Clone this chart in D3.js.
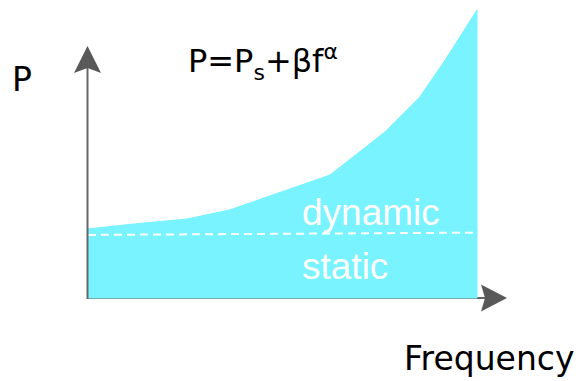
<!DOCTYPE html>
<html>
<head>
<meta charset="utf-8">
<script src="https://cdn.jsdelivr.net/npm/d3@7"></script>
<style>
  html, body { margin: 0; padding: 0; background: #fff; }
  svg { display: block; }
</style>
</head>
<body>
<svg id="chart" width="581" height="381"></svg>
<script>
// ---- data ----
const frequency = [0, 1.41, 2.54, 3.65, 6.22, 7.63, 8.53, 9.18, 10];
const power     = [24, 26, 27.4, 30.6, 42.7, 57.6, 69.8, 82.6, 100];
const staticFreq  = [0, 10];
const staticPower = [21.9, 22.7];
const labels = { y: "P", x: "Frequency", dynamic: "dynamic", stat: "static" };

const svg = d3.select("#chart");
const x = d3.scaleLinear().domain([0, 10]).range([88, 477]);
const y = d3.scaleLinear().domain([0, 100]).range([298, 10]);

const axisColor = "#666666";
const headColor = "#595959";
const fillColor = "#78f3ff";

// x axis line (under area)
svg.append("line")
  .attr("x1", x(0) - 1).attr("x2", x(10) + 8)
  .attr("y1", y(0)).attr("y2", y(0))
  .attr("stroke", axisColor).attr("stroke-width", 2);

// area
const pts = frequency.map((f, i) => ({ f, p: power[i] }));
const area = d3.area().x(d => x(d.f)).y0(y(0)).y1(d => y(d.p)).curve(d3.curveLinear);
svg.append("path").datum(pts)
  .attr("d", area)
  .attr("fill", fillColor)
  .attr("stroke", fillColor).attr("stroke-width", 1)
  .attr("stroke-linejoin", "round");

// dashed static line
svg.append("line")
  .attr("x1", x(staticFreq[0])).attr("x2", x(staticFreq[1]))
  .attr("y1", y(staticPower[0])).attr("y2", y(staticPower[1]))
  .attr("stroke", "#ffffff").attr("stroke-width", 2)
  .attr("stroke-dasharray", "8,5");

// y axis line
const ax = x(0) - 0.5;
svg.append("line")
  .attr("x1", ax).attr("x2", ax)
  .attr("y1", y(0) + 1).attr("y2", 68)
  .attr("stroke", axisColor).attr("stroke-width", 2);
// y arrow head
svg.append("path")
  .attr("d", `M${ax},46 L${ax + 13.5},73 L${ax},68 L${ax - 13.5},73 Z`)
  .attr("fill", headColor);
// x arrow head
const ay = y(0);
svg.append("path")
  .attr("d", `M507,${ay} L481,${ay - 13.5} L485,${ay} L481,${ay + 13.5} Z`)
  .attr("fill", headColor);

// texts
svg.append("text").attr("x", 12).attr("y", 90.5)
  .attr("font-family", "DejaVu Sans").attr("font-size", 33).attr("fill", "#000")
  .text(labels.y);
svg.append("text").attr("x", 404).attr("y", 370)
  .attr("font-family", "DejaVu Sans").attr("font-size", 33).attr("fill", "#000")
  .text(labels.x);

const formula = svg.append("text").attr("x", 188).attr("y", 72)
  .attr("font-family", "DejaVu Sans").attr("font-size", 32).attr("fill", "#000");
formula.append("tspan").text("P=P");
formula.append("tspan").attr("font-size", 22).attr("dy", 8).text("s");
formula.append("tspan").attr("dy", -8).text("+βf");
formula.append("tspan").attr("font-size", 22).attr("dy", -13).text("α");

svg.append("text").attr("x", 302).attr("y", 225)
  .attr("font-family", "Liberation Sans, Arial").attr("font-size", 37).attr("fill", "#fff")
  .text(labels.dynamic);
svg.append("text").attr("x", 302).attr("y", 279)
  .attr("font-family", "Liberation Sans, Arial").attr("font-size", 37).attr("fill", "#fff")
  .text(labels.stat);
</script>
</body>
</html>
